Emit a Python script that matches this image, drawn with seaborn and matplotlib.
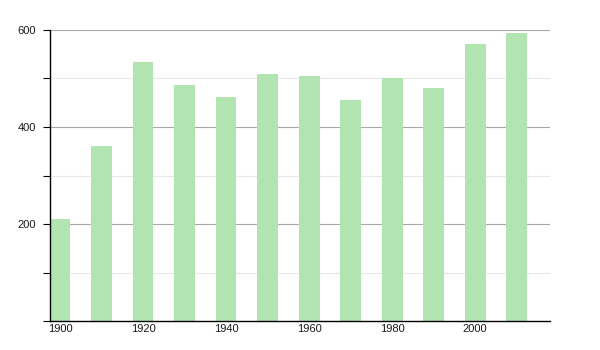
import matplotlib
matplotlib.use("Agg")
import matplotlib.pyplot as plt
import seaborn as sns
import pandas as pd
from matplotlib.ticker import MultipleLocator, FixedLocator

years = [1900, 1910, 1920, 1930, 1940, 1950, 1960, 1970, 1980, 1990, 2000, 2010]
values = [211, 360, 534, 486, 461, 509, 505, 456, 501, 481, 572, 594]
xtick_labels = [1900, 1920, 1940, 1960, 1980, 2000]
ytick_labels = [200, 400, 600]

sns.set_theme(style="white")
plt.rcParams['font.family'] = ['Liberation Sans', 'DejaVu Sans']

df = pd.DataFrame({"year": years, "value": values})

fig = plt.figure(figsize=(6, 3.5), dpi=100)
ax = fig.add_axes([50/600, 1 - 321/350, 500/600, (321 - 30)/350])

sns.barplot(data=df, x="year", y="value", ax=ax, color="#b2e4b2",
            saturation=1, width=0.5, native_scale=True, edgecolor="none")

ax.set_xlim(1897.6, 2018.0)
ax.set_ylim(0, 600)

for v in [100, 300, 500]:
    ax.axhline(v, color="#e8e8e8", lw=0.8, zorder=0)
for v in ytick_labels:
    ax.axhline(v, color="#a8a8a8", lw=0.8, zorder=0)

ax.yaxis.set_major_locator(FixedLocator(ytick_labels))
ax.yaxis.set_minor_locator(MultipleLocator(100))
ax.set_xticks(xtick_labels)
ax.set_xticklabels([str(x) for x in xtick_labels])
ax.tick_params(axis="y", which="both", direction="out", length=5, width=0.8,
               color="black", left=True, labelsize=8, labelcolor="#1a1a1a", pad=5)
ax.tick_params(axis="x", which="both", length=0, labelsize=8,
               labelcolor="#1a1a1a", pad=2)

for s in ["top", "right"]:
    ax.spines[s].set_visible(False)
for s in ["left", "bottom"]:
    ax.spines[s].set_color("black")
    ax.spines[s].set_linewidth(1.0)

ax.set_xlabel("")
ax.set_ylabel("")
ax.grid(False)

fig.savefig("out.png", dpi=100)
